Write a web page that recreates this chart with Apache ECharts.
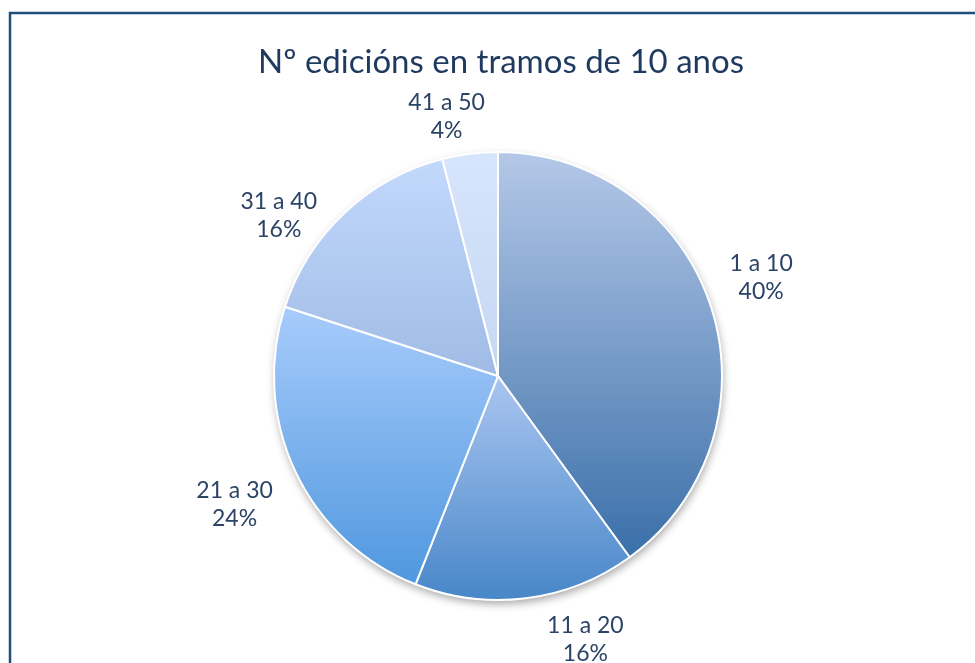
<!DOCTYPE html>
<html>
<head>
<meta charset="utf-8">
<script src="https://cdn.jsdelivr.net/npm/echarts@6/dist/echarts.min.js"></script>
<style>
  html, body { margin: 0; padding: 0; background: #fff; }
  #chart { width: 975px; height: 663px; }
</style>
</head>
<body>
<div id="chart"></div>
<script>
// datos: número de edicións por tramo
const categorias = ['1 a 10', '11 a 20', '21 a 30', '31 a 40', '41 a 50']
const valores = [10, 4, 6, 4, 1]

// cor superior / inferior do degradado de cada porción
const corArriba = ['#b5c8e8', '#abc6f1', '#a8ccfc', '#c3d9fc', '#d7e5fc']
const corAbaixo = ['#3a6fa8', '#4786c8', '#4f97de', '#9fbbe5', '#c6d7f2']

const centro = [498, 376]
const raio = 224
// pequenos axustes da posición das etiquetas (px)
const axusteEtiqueta = [[1, -14], [52, -6], [-8, 13], [-26, 38], [-16, 10]]

const total = valores.reduce((a, b) => a + b, 0)

const chart = echarts.init(document.getElementById('chart'))

const datos = categorias.map((c, i) => ({
  name: c,
  value: valores[i],
  itemStyle: {
    color: new echarts.graphic.LinearGradient(0, 0, 0, 1, [
      { offset: 0, color: corArriba[i] },
      { offset: 1, color: corAbaixo[i] }
    ])
  }
}))

// ángulo medio de cada porción (en radiáns, dende as 12 en sentido horario)
const anguloMedio = i => {
  let acc = 0
  for (let k = 0; k < i; k++) acc += valores[k]
  return ((acc + valores[i] / 2) / total) * Math.PI * 2
}

chart.setOption({
  animation: false,
  title: {
    text: 'Nº edicións en tramos de 10 anos',
    left: 253,
    top: 41,
    textStyle: {
      fontFamily: 'Lato',
      fontSize: 33,
      fontWeight: 'normal',
      color: '#1f3a5f'
    }
  },
  graphic: [
    {
      type: 'rect',
      shape: { x: 10, y: 13, width: 1000, height: 700 },
      style: { fill: 'none', stroke: '#1f4e79', lineWidth: 2.5 },
      silent: true
    }
  ],
  series: [
    {
      // sombra baixo o círculo
      type: 'pie',
      silent: true,
      center: centro,
      radius: raio,
      startAngle: 90,
      clockwise: true,
      label: { show: false },
      labelLine: { show: false },
      itemStyle: {
        color: '#ffffff',
        borderWidth: 0,
        shadowBlur: 8,
        shadowOffsetX: 1,
        shadowOffsetY: 4,
        shadowColor: 'rgba(0,0,0,0.35)'
      },
      data: valores.map(v => ({ value: v })),
      z: 1
    },
    {
      type: 'pie',
      center: centro,
      radius: raio,
      startAngle: 90,
      clockwise: true,
      itemStyle: {
        borderColor: '#ffffff',
        borderWidth: 2
      },
      label: {
        show: true,
        position: 'outside',
        formatter: p => p.name + '\n' + Math.round(p.value / total * 100) + '%',
        fontFamily: 'Lato',
        fontSize: 23,
        lineHeight: 28,
        color: '#2b4366',
        align: 'center'
      },
      labelLine: { show: false },
      labelLayout: params => {
        const i = params.dataIndex
        const a = anguloMedio(i)
        const dx = Math.sin(a)
        const dy = -Math.cos(a)
        const w = params.labelRect.width
        const h = params.labelRect.height
        const d = raio + 20
        return {
          x: centro[0] + dx * d + dx * w / 2 + axusteEtiqueta[i][0],
          y: centro[1] + dy * d + dy * h / 2 + axusteEtiqueta[i][1],
          align: 'center',
          verticalAlign: 'middle'
        }
      },
      data: datos,
      z: 2
    }
  ]
})
</script>
</body>
</html>
